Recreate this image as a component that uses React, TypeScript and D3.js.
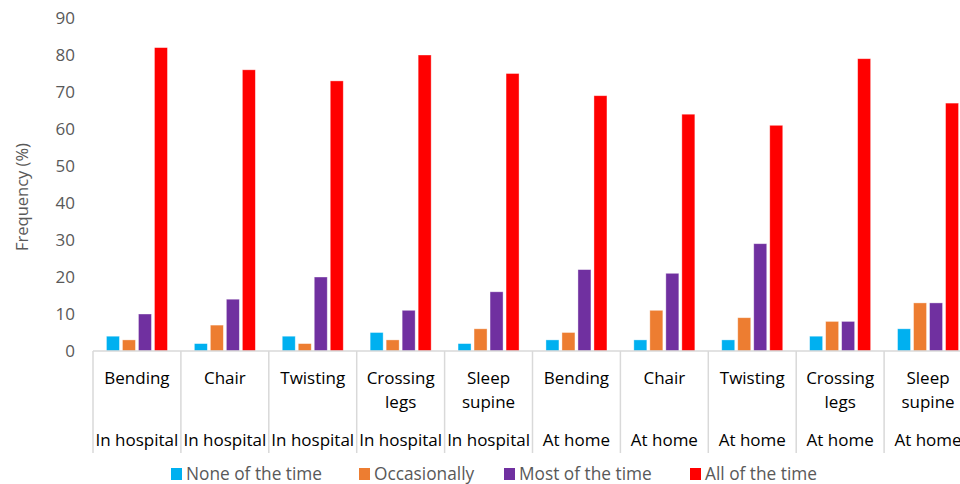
import React from 'react'
import * as d3 from 'd3'

const activities = ['Bending', 'Chair', 'Twisting', 'Crossing legs', 'Sleep supine',
  'Bending', 'Chair', 'Twisting', 'Crossing legs', 'Sleep supine']
const settings = ['In hospital', 'In hospital', 'In hospital', 'In hospital', 'In hospital',
  'At home', 'At home', 'At home', 'At home', 'At home']

const seriesNames = ['None of the time', 'Occasionally', 'Most of the time', 'All of the time']
const seriesColors = ['#00B0F0', '#ED7D31', '#7030A0', '#FF0000']

const noneOfTheTime = [4, 2, 4, 5, 2, 3, 3, 3, 4, 6]
const occasionally = [3, 7, 2, 3, 6, 5, 11, 9, 8, 13]
const mostOfTheTime = [10, 14, 20, 11, 16, 22, 21, 29, 8, 13]
const allOfTheTime = [82, 76, 73, 80, 75, 69, 64, 61, 79, 67]

const yTicks = [0, 10, 20, 30, 40, 50, 60, 70, 80, 90]

const App: React.FunctionComponent = () => {
  const width = 960
  const height = 484
  const margin = { top: 18, left: 93, bottom: 133, right: -12 }
  const font = '"Open Sans", sans-serif'
  const textGray = '#595959'
  const lineGray = '#D9D9D9'

  const series = [noneOfTheTime, occasionally, mostOfTheTime, allOfTheTime]

  const xScale = d3
    .scaleBand<number>()
    .domain(d3.range(activities.length))
    .range([margin.left, width - margin.right])

  const innerScale = d3
    .scaleBand<number>()
    .domain(d3.range(series.length))
    .range([0, xScale.bandwidth()])
    .paddingInner(0.1875)
    .paddingOuter(0.84)

  const yScale = d3
    .scaleLinear()
    .domain([0, 90])
    .range([height - margin.bottom, margin.top])

  const y0 = yScale(0)
  const axisBottom = y0 + 102

  const legendX = [171, 359, 504, 690]

  return (
    <svg
      width={width}
      height={height}
      style={{ position: 'absolute', left: 0, top: 0, background: '#fff' }}
      fontFamily={font}
    >
      {/* y tick labels */}
      {yTicks.map(t => (
        <text
          key={t}
          x={75}
          y={yScale(t)}
          dy="0.35em"
          textAnchor="end"
          fontSize={17}
          fill={textGray}
        >
          {t}
        </text>
      ))}
      <text
        transform={`translate(28, 197) rotate(-90)`}
        textAnchor="middle"
        fontSize={16.5}
        fill={textGray}
      >
        Frequency (%)
      </text>

      {/* bars */}
      {series.map((values, si) =>
        values.map((v, ci) => (
          <rect
            key={`${si}-${ci}`}
            x={(xScale(ci) || 0) + (innerScale(si) || 0)}
            y={yScale(v)}
            width={innerScale.bandwidth()}
            height={y0 - yScale(v)}
            fill={seriesColors[si]}
            stroke="#fff"
            strokeOpacity={0.5}
            strokeWidth={0.75}
          />
        ))
      )}

      {/* category axis */}
      <line x1={margin.left} x2={width} y1={y0} y2={y0} stroke={lineGray} strokeWidth={1.5} />
      {d3.range(activities.length + 1).map(i => {
        const x = i < activities.length ? xScale(i) || 0 : width - margin.right
        return (
          <line
            key={i}
            x1={x}
            x2={x}
            y1={y0}
            y2={axisBottom}
            stroke={lineGray}
            strokeWidth={1.5}
          />
        )
      })}
      {activities.map((label, i) => {
        const cx = (xScale(i) || 0) + xScale.bandwidth() / 2
        const lines = label.split(' ')
        return (
          <g key={i}>
            {lines.map((ln, li) => (
              <text
                key={li}
                x={cx}
                y={y0 + 27 + li * 24}
                dy="0.35em"
                textAnchor="middle"
                fontSize={17}
                fill="#000"
              >
                {ln}
              </text>
            ))}
            <text
              x={cx}
              y={y0 + 89}
              dy="0.35em"
              textAnchor="middle"
              fontSize={17}
              fill="#000"
            >
              {settings[i]}
            </text>
          </g>
        )
      })}

      {/* legend */}
      {seriesNames.map((name, i) => (
        <g key={name} transform={`translate(${legendX[i]}, 474)`}>
          <rect x={0} y={-6} width={11} height={12} fill={seriesColors[i]} />
          <text x={15} y={0} dy="0.35em" fontSize={17.3} fill={textGray}>
            {name}
          </text>
        </g>
      ))}
    </svg>
  )
}

export default App
